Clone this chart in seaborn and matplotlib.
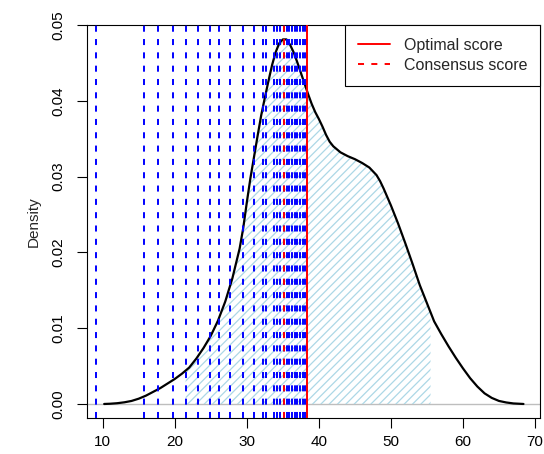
import numpy as np
import pandas as pd
import seaborn as sns
import matplotlib
matplotlib.use("Agg")
import matplotlib.pyplot as plt
from matplotlib.lines import Line2D

# Density curve of the score distribution (score, density)
score_x = [10.2, 11, 12, 13, 14, 15, 16, 17, 18, 19, 20, 21, 21.5, 22, 23, 24,
           25, 26, 27, 28, 29, 29.5, 30, 30.5, 31, 31.5, 32, 32.5, 33, 33.5,
           34, 34.5, 35, 35.5, 36, 36.5, 37, 37.5, 38, 38.5, 39, 39.5, 40,
           40.5, 41, 41.5, 42, 42.5, 43, 44, 45, 46, 47, 48, 48.5, 49, 49.5,
           50, 51, 52, 53, 54, 55, 55.5, 56, 57, 58, 59, 60, 61, 62, 63, 64,
           65, 66, 67, 68.4]
density_y = [0.0, 0.00003, 0.0001, 0.00022, 0.0004, 0.0007, 0.0011, 0.0016,
             0.0021, 0.0027, 0.0033, 0.0040, 0.0044, 0.0048, 0.0060, 0.0074,
             0.0090, 0.0110, 0.0135, 0.0166, 0.0205, 0.0232, 0.0266, 0.0298,
             0.0326, 0.0354, 0.0381, 0.0404, 0.0426, 0.0447, 0.0464, 0.0476,
             0.0481, 0.0481, 0.0474, 0.0464, 0.0451, 0.0437, 0.0423, 0.0409,
             0.0396, 0.0385, 0.0376, 0.0366, 0.0355, 0.0346, 0.0340, 0.0336,
             0.0332, 0.0327, 0.0323, 0.0318, 0.0312, 0.0302, 0.0294, 0.0284,
             0.0273, 0.0262, 0.0238, 0.0212, 0.0185, 0.0157, 0.0133, 0.0121,
             0.0109, 0.0092, 0.0076, 0.0061, 0.0047, 0.0034, 0.0023, 0.0014,
             0.0008, 0.0004, 0.0002, 0.00007, 0.0]

# Scores of the individual runs (dashed blue markers)
run_scores = [9.07, 15.73, 17.72, 19.76, 21.52, 23.19, 24.89, 26.10, 27.67,
              29.43, 30.95, 32.2, 32.7, 33.8, 34.15, 34.6, 35.16, 35.54, 35.9,
              36.27, 36.65, 37.0, 37.38, 37.75, 38.1, 38.4]

optimal_score = 38.4
consensus_score = 35.16
shade_range = (21.5, 55.5)

x_ticks = [10, 20, 30, 40, 50, 60, 70]
y_ticks = [0.00, 0.01, 0.02, 0.03, 0.04, 0.05]

sns.set_theme(style="white")
plt.rcParams["font.family"] = ["Liberation Sans", "DejaVu Sans"]
plt.rcParams["hatch.linewidth"] = 0.9

df = pd.DataFrame({"score": score_x, "density": density_y})

fig = plt.figure(figsize=(5.44, 4.54), dpi=100)
ax = fig.add_axes([0.1605, 0.0793, 0.8321, 0.8656])

# zero baseline
ax.axhline(0, color="#bebebe", lw=1.0, zorder=1)

# hatched interval under the curve
sel = df[(df["score"] >= shade_range[0]) & (df["score"] <= shade_range[1])]
ax.fill_between(sel["score"], 0, sel["density"], facecolor="none",
                edgecolor="#add8e6", hatch="////", linewidth=0, zorder=1.5)

sns.lineplot(data=df, x="score", y="density", color="black", lw=1.6,
             ax=ax, zorder=2.5)

dash = (0, (3.1, 3.75))
for s in run_scores:
    ax.axvline(s, color="#0000ff", lw=1.4, linestyle=dash, zorder=3)

ax.axvline(consensus_score, color="red", lw=1.4, linestyle=dash, zorder=3.5)
ax.axvline(optimal_score, color="red", lw=1.4, zorder=3.5)

ax.set_xlim(7.86, 70.69)
ax.set_ylim(-0.00185, 0.04995)
ax.set_xticks(x_ticks)
ax.set_xticklabels([str(t) for t in x_ticks])
ax.set_yticks(y_ticks)
ax.set_yticklabels([f"{t:.2f}" for t in y_ticks], rotation=90, va="center")
ax.set_xlabel("")
ax.set_ylabel("Density", fontsize=11, labelpad=8)

ax.tick_params(axis="both", direction="out", length=7.5, width=0.8,
               labelsize=11, pad=5, colors="black", left=True, bottom=True)
ax.tick_params(axis="y", pad=8)
for sp in ax.spines.values():
    sp.set_visible(True)
    sp.set_color("black")
    sp.set_linewidth(0.8)

handles = [Line2D([], [], color="red", lw=1.4),
           Line2D([], [], color="red", lw=1.4, linestyle=dash)]
leg = ax.legend(handles, ["Optimal score", "Consensus score"], loc="upper right",
                borderaxespad=0, fancybox=False, framealpha=1, edgecolor="black",
                fontsize=11.5, handlelength=2.0, handletextpad=0.85,
                borderpad=0.8, labelspacing=0.32)
leg.get_frame().set_linewidth(0.8)
leg.set_zorder(5)

fig.savefig("out.png", dpi=100)
